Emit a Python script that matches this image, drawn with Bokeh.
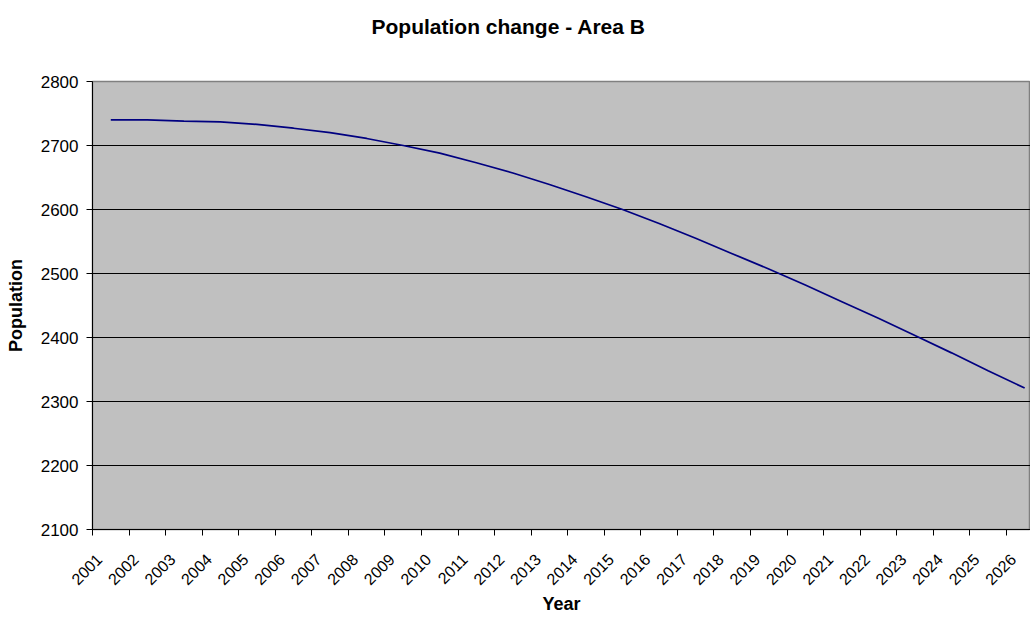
from bokeh.plotting import figure
from bokeh.models import Range1d, FixedTicker, ColumnDataSource, CustomJSTickFormatter, Title
from bokeh.embed import file_html
from bokeh.resources import INLINE
import math

# Projected population for Area B, one value per year
years = [2001, 2002, 2003, 2004, 2005, 2006, 2007, 2008, 2009, 2010, 2011, 2012, 2013,
         2014, 2015, 2016, 2017, 2018, 2019, 2020, 2021, 2022, 2023, 2024, 2025, 2026]
population = [2740, 2740, 2738, 2737, 2733, 2727, 2720, 2711, 2700, 2688, 2673, 2657, 2639,
              2620, 2600, 2578, 2555, 2531, 2507, 2482, 2456, 2430, 2403, 2376, 2348, 2321]
y_ticks = [2100, 2200, 2300, 2400, 2500, 2600, 2700, 2800]
grid_values = [2200, 2300, 2400, 2500, 2600, 2700]

FONT = "Liberation Sans"
LABEL_SHIFT = 0.32  # slanted year labels end a little left of the category centre

# category boundaries sit halfway between the years
boundaries = [y - 0.5 for y in years]
label_positions = [y - LABEL_SHIFT for y in years]

source = ColumnDataSource(data=dict(year=years, population=population))

p = figure(
    width=1030, height=618,
    x_range=Range1d(years[0] - 0.5, years[0] - 0.5 + 25.66),
    y_range=Range1d(y_ticks[0], y_ticks[-1]),
    output_backend="svg", toolbar_location=None,
    title="Population change - Area B",
    min_border_left=92, min_border_right=0, min_border_top=81, min_border_bottom=89,
)

p.background_fill_color = "#C0C0C0"
p.border_fill_color = "white"
p.outline_line_color = "#808080"
p.outline_line_width = 1.5

p.title.align = "left"
p.title.offset = 279
p.title.standoff = 10
p.title.text_font = FONT
p.title.text_font_size = "21px"
p.title.text_font_style = "bold"
p.title.text_color = "black"

# blank band between the title and the plot area
spacer = Title(text=" ", text_font_size="20px", standoff=15)
p.above = [spacer] + list(p.above)

p.line("year", "population", source=source, line_color="#000080", line_width=1.7)

# x axis: labels near each year, tick marks between the years
xa = p.xaxis[0]
xa.ticker = FixedTicker(ticks=label_positions, minor_ticks=boundaries)
xa.formatter = CustomJSTickFormatter(
    args=dict(shift=LABEL_SHIFT), code="return String(Math.round(tick + shift));")
xa.major_tick_line_color = None
xa.major_tick_out = 6
xa.major_tick_in = 0
xa.minor_tick_line_color = "black"
xa.minor_tick_out = 6
xa.minor_tick_in = 0
xa.axis_line_color = "black"
xa.major_label_orientation = math.pi / 4
xa.major_label_text_font = FONT
xa.major_label_text_font_size = "16px"
xa.major_label_text_color = "black"
xa.major_label_standoff = 21
xa.axis_label = "Year"
xa.axis_label_text_font = FONT
xa.axis_label_text_font_size = "18px"
xa.axis_label_text_font_style = "bold"
xa.axis_label_text_color = "black"
xa.axis_label_standoff = 1

ya = p.yaxis[0]
ya.ticker = FixedTicker(ticks=y_ticks)
ya.major_tick_line_color = "black"
ya.major_tick_out = 6
ya.major_tick_in = 0
ya.minor_tick_line_color = None
ya.axis_line_color = "black"
ya.major_label_text_font = FONT
ya.major_label_text_font_size = "17px"
ya.major_label_text_color = "black"
ya.major_label_standoff = 8
ya.axis_label = "Population"
ya.axis_label_text_font = FONT
ya.axis_label_text_font_size = "18px"
ya.axis_label_text_font_style = "bold"
ya.axis_label_text_color = "black"
ya.axis_label_standoff = 12

p.xgrid.grid_line_color = None
p.ygrid.ticker = FixedTicker(ticks=grid_values)
p.ygrid.grid_line_color = "black"
p.ygrid.grid_line_width = 1

open("out.html", "w").write(file_html(p, INLINE))
